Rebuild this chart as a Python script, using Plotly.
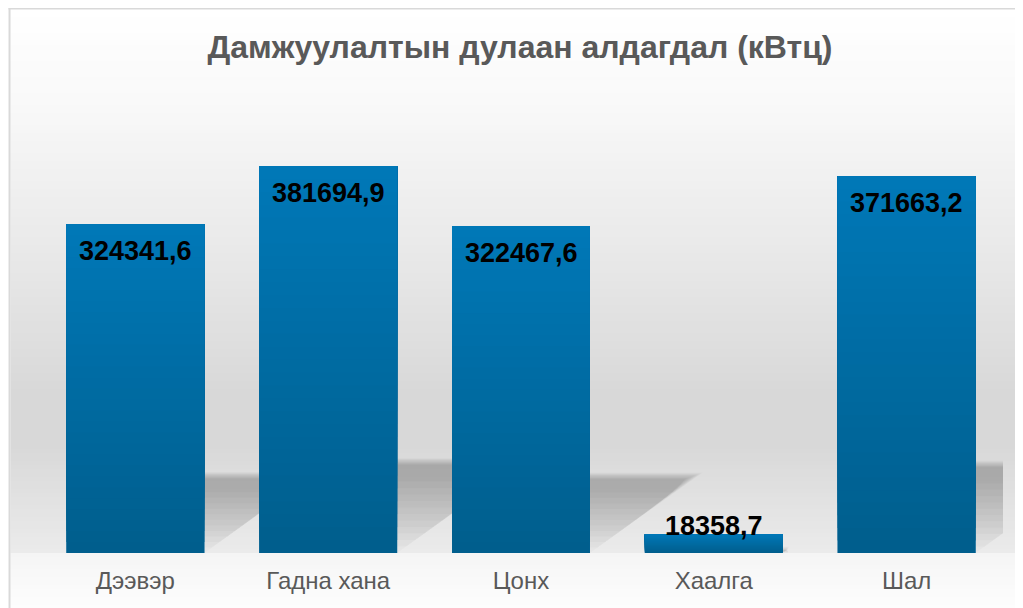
import plotly.graph_objects as go

# ---------------- data ----------------
categories = ["Дээвэр", "Гадна хана", "Цонх", "Хаалга", "Шал"]
values = [324341.6, 381694.9, 322467.6, 18358.7, 371663.2]
title_text = "Дамжуулалтын дулаан алдагдал (кВтц)"
y_max = 450000

# ---------------- geometry helpers (figure pixels -> paper) ----------------
W, H = 1015, 600
L, R, T, B = 30.5, 995.5, 89, 545


def px(x):
    return (x - L) / (R - L)


def py(y):
    return (B - y) / (B - T)


def hex2rgb(h):
    h = h.lstrip("#")
    return tuple(int(h[i:i + 2], 16) for i in (0, 2, 4))


def mix(c1, c2, t):
    a, b = hex2rgb(c1), hex2rgb(c2)
    return "rgb(%d,%d,%d)" % tuple(round(a[i] + (b[i] - a[i]) * t) for i in range(3))


def grad_color(stops, y):
    for (y0, c0), (y1, c1) in zip(stops, stops[1:]):
        if y0 <= y <= y1:
            t = 0 if y1 == y0 else (y - y0) / (y1 - y0)
            return mix(c0, c1, t)
    return stops[-1][1]


shapes = []

# background gradient of the chart area
bg_stops = [(0, "#ffffff"), (92, "#f9f9f9"), (242, "#e9e9e9"), (387, "#d8d8d8"),
            (437, "#d8d8d8"), (545, "#ebebeb")]
step = 4
for y in range(1, B, step):
    y2 = min(y + step, B)
    shapes.append(dict(type="rect", xref="paper", yref="paper", layer="below",
                       x0=px(2), x1=px(W + 2), y0=py(y), y1=py(y2),
                       fillcolor=grad_color(bg_stops, (y + y2) / 2), line=dict(width=0)))
low_stops = [(B, "#f5f5f5"), (H, "#fdfdfd")]
for y in range(B, H, step):
    y2 = min(y + step, H)
    shapes.append(dict(type="rect", xref="paper", yref="paper", layer="below",
                       x0=px(2), x1=px(W + 2), y0=py(y), y1=py(y2),
                       fillcolor=grad_color(low_stops, (y + y2) / 2), line=dict(width=0)))

# frame lines
shapes.append(dict(type="line", xref="paper", yref="paper", layer="below",
                   x0=px(1), x1=px(1), y0=py(0), y1=py(H + 2),
                   line=dict(color="#d9d9d9", width=2)))
shapes.append(dict(type="line", xref="paper", yref="paper", layer="below",
                   x0=px(0), x1=px(W + 2), y0=py(0.5), y1=py(0.5),
                   line=dict(color="#d9d9d9", width=2)))

# soft perspective shadows behind bars (derived from values)
half = 0.3575
units_per_px = y_max / (B - T)
cat_px = (R - L) / len(categories)
for i, v in enumerate(values):
    right = i + half
    h = 0.24 * v
    s = 1.4 * (h / units_per_px) / cat_px
    n = 12
    for j in range(n):
        f = 1.0 - j * 0.07
        top = h + (2 - j * 0.6) * units_per_px
        yb = h * (1 - f)
        xb = right + s * (1 - f)
        path = "M %f,%f L %f,%f L %f,%f L %f,%f Z" % (
            right, top, right + s * (1.03 - j * 0.015), top, xb, yb, right, yb)
        shapes.append(dict(type="path", xref="x", yref="y", layer="below", path=path,
                           fillcolor="rgba(0,0,0,0.018)", line=dict(width=0)))

# vertical gradient over each bar
K = 30
for i, v in enumerate(values):
    for k in range(K):
        shapes.append(dict(type="rect", xref="x", yref="y", layer="above",
                           x0=i - half, x1=i + half, y0=v * k / K, y1=v,
                           fillcolor=mix("#005e8d", "#0078b7", k / (K - 1)),
                           line=dict(width=0)))

fig = go.Figure(go.Bar(
    x=list(range(len(categories))), y=values,
    marker=dict(color="#006ca3", line=dict(width=0)),
    width=2 * half, hoverinfo="skip",
))

font_family = "Liberation Sans, Arial, sans-serif"
annotations = []
for i, v in enumerate(values):
    bar_px = v / units_per_px
    annotations.append(dict(
        x=i, y=v, xref="x", yref="y", showarrow=False,
        text="<b>" + ("%.1f" % v).replace(".", ",") + "</b>",
        yanchor="middle", yshift=-27 if bar_px > 45 else 8,
        font=dict(family=font_family, size=27, color="#000000"),
    ))

fig.update_layout(
    width=W, height=H,
    margin=dict(l=L, r=W - R, t=T, b=H - B, pad=0),
    paper_bgcolor="#ffffff", plot_bgcolor="rgba(0,0,0,0)",
    showlegend=False,
    shapes=shapes, annotations=annotations,
    title=dict(text="<b>" + title_text + "</b>", xref="container", yref="container",
               x=512 / W, xanchor="center", y=1 - 39 / H, yanchor="middle",
               font=dict(family=font_family, size=32, color="#595959")),
    xaxis=dict(range=[-0.5, len(categories) - 0.5], tickmode="array",
               tickvals=list(range(len(categories))), ticktext=categories,
               showgrid=False, zeroline=False, showline=False, ticks="",
               ticklabelstandoff=11,
               tickfont=dict(family=font_family, size=24, color="#595959")),
    yaxis=dict(range=[0, y_max], visible=False, showgrid=False, zeroline=False),
)

fig.write_html("out.html")
